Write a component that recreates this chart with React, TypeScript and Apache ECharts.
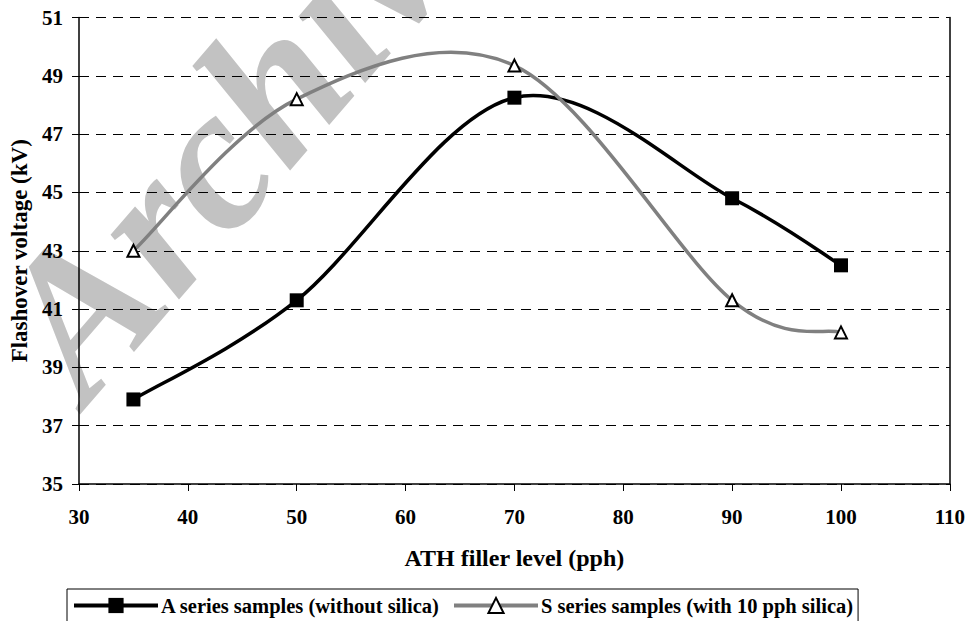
import React, { useEffect, useRef } from "react";
import * as echarts from "echarts";

const fillerLevel = [35, 50, 70, 90, 100];
const seriesA = [37.9, 41.3, 48.25, 44.8, 42.5];
const seriesS = [43.0, 48.2, 49.35, 41.3, 40.2];
const nameA = "A series samples (without silica)";
const nameS = "S series samples (with 10 pph silica)";
const xTitle = "ATH filler level (pph)";
const yTitle = "Flashover voltage (kV)";
const watermark = "Archive";

const FONT = "Liberation Serif, Times New Roman, serif";
const COLOR_A = "#000000";
const COLOR_S = "#808080";

function curveSeries(id: string, values: number[], color: string, z: number) {
  const n = fillerLevel.length;
  return {
    id,
    name: id,
    type: "custom",
    coordinateSystem: "cartesian2d",
    silent: true,
    z,
    data: fillerLevel.map((x, i) => [x, values[i]]),
    renderItem: (params: any, api: any) => {
      const i = params.dataIndex;
      if (i >= n - 1) return null;
      const pt = (j: number) => {
        const k = Math.max(0, Math.min(n - 1, j));
        return api.coord([fillerLevel[k], values[k]]);
      };
      const p0 = pt(i - 1);
      const p1 = pt(i);
      const p2 = pt(i + 1);
      const p3 = pt(i + 2);
      const t = 1 / 6;
      return {
        type: "bezierCurve",
        shape: {
          x1: p1[0],
          y1: p1[1],
          x2: p2[0],
          y2: p2[1],
          cpx1: p1[0] + (p2[0] - p0[0]) * t,
          cpy1: p1[1] + (p2[1] - p0[1]) * t,
          cpx2: p2[0] - (p3[0] - p1[0]) * t,
          cpy2: p2[1] - (p3[1] - p1[1]) * t,
        },
        style: { stroke: color, lineWidth: 3.5, fill: "none", lineCap: "round" },
      };
    },
  };
}

export default function App() {
  const ref = useRef<HTMLDivElement>(null);
  useEffect(() => {
    if (!ref.current) return;
    const chart = echarts.init(ref.current, undefined, { renderer: "svg" });
    const label = { fontFamily: FONT, fontWeight: "bold" as const, fontSize: 21, color: "#000" };
    chart.setOption({
      animation: false,
      backgroundColor: "#fff",
      graphic: [
        {
          type: "text",
          x: 112,
          y: 428,
          rotation: 0.86,
          z: -10,
          silent: true,
          style: {
            text: watermark,
            font: "italic bold 205px Liberation Serif",
            fill: "#c2c2c2",
            textVerticalAlign: "bottom",
          },
        },
      ],
      grid: { left: 79, right: 17, top: 17.5, bottom: 137, containLabel: false },
      legend: {
        left: 67,
        top: 589,
        padding: [6, 5, 10, 5],
        borderColor: "#000",
        borderWidth: 1,
        itemWidth: 84,
        itemHeight: 19,
        itemGap: 12,
        textStyle: { fontFamily: FONT, fontWeight: "bold", fontSize: 20.5, color: "#000", padding: [0, 0, 0, -2] },
        data: [
          { name: nameA, lineStyle: { color: COLOR_A, width: 4, opacity: 1 } },
          { name: nameS, lineStyle: { color: COLOR_S, width: 4, opacity: 1 } },
        ],
      },
      xAxis: {
        type: "value",
        min: 30,
        max: 110,
        interval: 10,
        name: xTitle,
        nameLocation: "middle",
        nameGap: 62,
        nameTextStyle: { ...label, fontSize: 24 },
        axisLine: { show: true, lineStyle: { color: "#000", width: 1.5 } },
        axisTick: { show: true, inside: false, length: 7, lineStyle: { color: "#000", width: 1 } },
        axisLabel: { ...label, margin: 22 },
        splitLine: { show: false },
      },
      yAxis: [
        {
          type: "value",
          min: 35,
          max: 51,
          interval: 2,
          name: yTitle,
          nameLocation: "middle",
          nameGap: 40,
          nameTextStyle: { ...label, fontSize: 23 },
          axisLine: { show: true, lineStyle: { color: "#000", width: 1.5 } },
          axisTick: { show: true, inside: false, length: 7, lineStyle: { color: "#000", width: 1 } },
          axisLabel: { ...label, margin: 16 },
          splitLine: { show: true, lineStyle: { color: "#000", width: 1, type: [10, 7] } },
        },
        {
          type: "value",
          min: 35,
          max: 51,
          interval: 2,
          position: "right",
          axisLine: { show: true, lineStyle: { color: "#000", width: 1.5 } },
          axisTick: { show: false },
          axisLabel: { show: false },
          splitLine: { show: false },
        },
      ],
      series: [
        curveSeries("curveA", seriesA, COLOR_A, 2),
        curveSeries("curveS", seriesS, COLOR_S, 3),
        {
          name: nameA,
          type: "line",
          data: fillerLevel.map((x, i) => [x, seriesA[i]]),
          symbol: "rect",
          symbolSize: 14,
          itemStyle: { color: COLOR_A, borderColor: COLOR_A, borderWidth: 0 },
          lineStyle: { color: COLOR_A, width: 3.5, opacity: 0 },
          z: 4,
        },
        {
          name: nameS,
          type: "line",
          data: fillerLevel.map((x, i) => [x, seriesS[i]]),
          symbol: "triangle",
          symbolSize: 12,
          itemStyle: { color: "#fff", borderColor: "#000", borderWidth: 2 },
          lineStyle: { color: COLOR_S, width: 3.5, opacity: 0 },
          z: 5,
        },
      ],
    });
    return () => chart.dispose();
  }, []);
  return <div ref={ref} style={{ width: 968, height: 621, position: "absolute", left: 0, top: 0 }} />;
}
